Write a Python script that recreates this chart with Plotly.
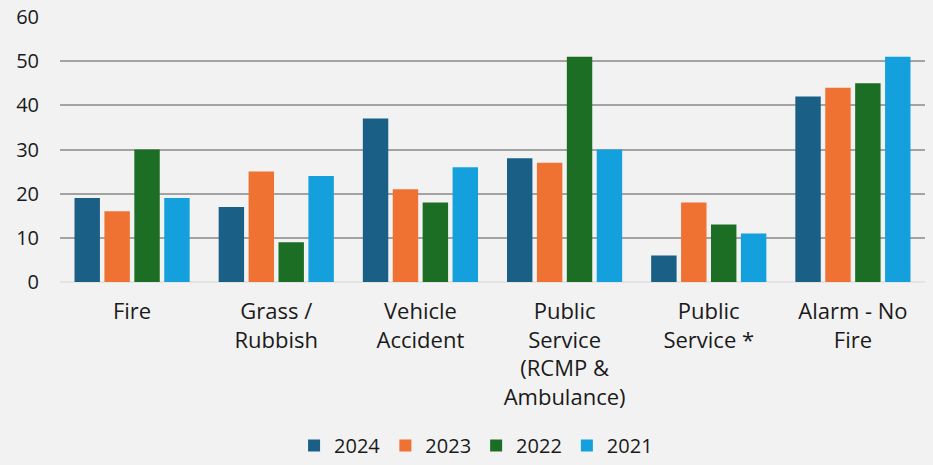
import plotly.graph_objects as go

categories = [
    "Fire",
    "Grass /<br>Rubbish",
    "Vehicle<br>Accident",
    "Public<br>Service<br>(RCMP &<br>Ambulance)",
    "Public<br>Service *",
    "Alarm - No<br>Fire",
]
years = ["2024", "2023", "2022", "2021"]
values_2024 = [19, 17, 37, 28, 6, 42]
values_2023 = [16, 25, 21, 27, 18, 44]
values_2022 = [30, 9, 18, 51, 13, 45]
values_2021 = [19, 24, 26, 30, 11, 51]
y_ticks = [0, 10, 20, 30, 40, 50, 60]

series = [values_2024, values_2023, values_2022, values_2021]
colors = ["#1a5f86", "#ef7233", "#1c6e25", "#14a0dc"]

fig = go.Figure()
for name, vals, col in zip(years, series, colors):
    fig.add_trace(go.Bar(
        x=categories, y=vals, name=name,
        marker=dict(color=col, line=dict(width=0)),
    ))

font_family = "Open Sans, Liberation Sans, sans-serif"
fig.update_layout(
    width=933, height=465,
    margin=dict(l=60, r=8, t=17, b=183, autoexpand=False),
    paper_bgcolor="#f2f2f2", plot_bgcolor="#f2f2f2",
    barmode="group", bargap=0.17, bargroupgap=0.15,
    font=dict(family=font_family, size=22, color="#1a1a1a"),
    showlegend=True,
    legend=dict(
        orientation="h", x=0.481, xanchor="center",
        yref="container", y=0.0, yanchor="bottom",
        font=dict(size=20), itemwidth=30, traceorder="normal",
        bgcolor="rgba(0,0,0,0)",
    ),
    xaxis=dict(
        showgrid=False, showline=False, ticks="", tickangle=0,
        tickfont=dict(size=22), ticklabelstandoff=14, automargin=False,
    ),
    yaxis=dict(
        range=[0, 60], tickvals=y_ticks, showgrid=True,
        gridcolor="#a3a3a3", gridwidth=2,
        zeroline=True, zerolinecolor="#e4e4e4", zerolinewidth=2,
        showline=False, ticks="", tickfont=dict(size=20),
        ticklabelstandoff=20, automargin=False,
    ),
)

fig.write_html("out.html")
